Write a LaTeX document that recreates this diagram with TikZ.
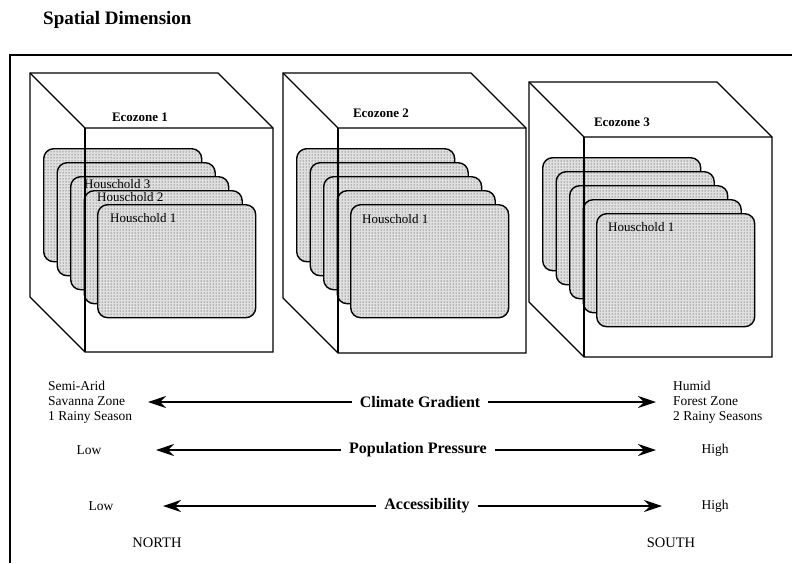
\documentclass[tikz,border=0pt]{standalone}
\usepackage{fontspec}
\setmainfont{Liberation Serif}
\usetikzlibrary{arrows.meta,patterns}

\tikzset{
  edge/.style={line width=1.2pt, line join=miter},
  card/.style={draw, line width=1.4pt, rounded corners=10pt, fill=black!12,
    minimum width=158pt, minimum height=113pt, anchor=north west, inner sep=0,
    postaction={pattern=dots, pattern color=black!85}},
  titletxt/.style={font=\fontsize{19}{22}\selectfont\bfseries, anchor=west, inner sep=0},
  zone/.style={font=\fontsize{13}{15}\selectfont\bfseries, inner sep=0},
  hh/.style={font=\fontsize{13}{15}\selectfont, anchor=west, inner sep=0},
  axislbl/.style={font=\fontsize{16}{18}\selectfont\bfseries, inner xsep=8pt, inner ysep=0},
  endtxt/.style={font=\fontsize{13.5}{15}\selectfont, inner sep=0, align=left},
  compass/.style={font=\fontsize{14.5}{17}\selectfont, inner sep=0},
  arr/.style={line width=1.1pt, -{Stealth[length=18pt,width=12pt,inset=6pt]}}
}

% #1 name, #2 shift, #3 back height
\newcommand{\ecobox}[3]{%
\begin{scope}[shift={#2}]
  \coordinate (#1-btl) at (0,0);
  \coordinate (#1-btr) at (188,0);
  \coordinate (#1-bbl) at (0,#3);
  \coordinate (#1-ftl) at (55,55);
  \coordinate (#1-ftr) at (243,55);
  \coordinate (#1-fbl) at (55,{55+#3});
  \coordinate (#1-fbr) at (243,{55+#3});
  \draw[edge] (#1-bbl) -- (#1-btl) -- (#1-btr) -- (#1-ftr) -- (#1-fbr) -- (#1-fbl) -- cycle;
  \draw[edge] (#1-btl) -- (#1-ftl) -- (#1-ftr);
  \foreach \i/\n in {0/a,1/b,2/c,3/d,4/e}
    \node[card] (#1-\n) at ({13+13.5*\i},{75+14*\i}) {};
  \draw[edge] (#1-ftl) -- (#1-fbl);
\end{scope}}

\begin{document}
\begin{tikzpicture}[x=1pt,y=-1pt]
\useasboundingbox (0,0) rectangle (792,563);

\node[titletxt] (title) at (43,20) {Spatial Dimension};

% outer frame
\draw[line width=1.6pt] (10,563) -- (10,55) -- (792,55);

% ecozones
\ecobox{z1}{(30,73)}{224}
\ecobox{z2}{(283,73)}{225}
\ecobox{z3}{(529,82)}{220}

\node[zone] (ez1) at (140,117) {Ecozone 1};
\node[zone] (ez2) at (381,113) {Ecozone 2};
\node[zone] (ez3) at (622,122) {Ecozone 3};

\node[hh] (h13) at (84,184) {Houschold 3};
\node[hh] (h12) at (97,197) {Houschold 2};
\node[hh] (h11) at (110,218) {Houschold 1};
\node[hh] (h21) at (362,219) {Houschold 1};
\node[hh] (h31) at (608,227) {Houschold 1};

% gradients
\node[endtxt, anchor=west] (semiarid) at (48,402) {Semi-Arid\\Savanna Zone\\1 Rainy Season};
\node[endtxt, anchor=west] (humid) at (673,402) {Humid\\Forest Zone\\2 Rainy Seasons};

\node[axislbl] (climate) at (420,402) {Climate Gradient};
\coordinate (climL) at (148,402);
\coordinate (climR) at (656,402);
\draw[arr] (climate.west) -- (climL);
\draw[arr] (climate.east) -- (climR);

\node[endtxt] (popLow) at (89,450) {Low};
\node[endtxt] (popHigh) at (715,450) {High};
\node[axislbl] (pop) at (418,450) {Population Pressure};
\coordinate (popL) at (156,450);
\coordinate (popR) at (656,450);
\draw[arr] (pop.west) -- (popL);
\draw[arr] (pop.east) -- (popR);

\node[endtxt] (accLow) at (101,506) {Low};
\node[endtxt] (accHigh) at (715,506) {High};
\node[axislbl] (acc) at (427,506) {Accessibility};
\coordinate (accL) at (163,506);
\coordinate (accR) at (662,506);
\draw[arr] (acc.west) -- (accL);
\draw[arr] (acc.east) -- (accR);

\node[compass] (north) at (157,543) {NORTH};
\node[compass] (south) at (671,543) {SOUTH};
\end{tikzpicture}
\end{document}
